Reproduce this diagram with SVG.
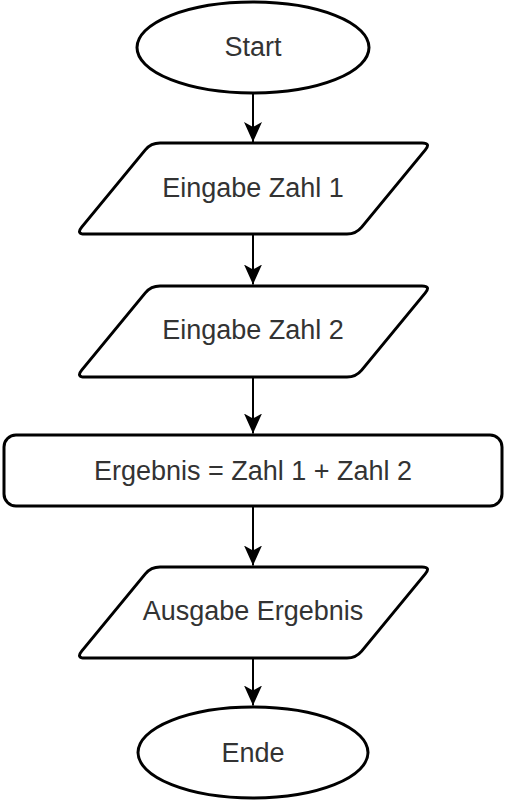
<svg xmlns="http://www.w3.org/2000/svg" width="505" height="800" viewBox="0 0 505 800">
<style>
.shape{fill:#fff;stroke:#000;stroke-width:3}
.lbl{font-family:"Liberation Sans",Arial,sans-serif;font-size:27px;fill:#333;text-anchor:middle}
.conn{stroke:#000;stroke-width:2;fill:none}
</style>
<defs>
<marker id="arr" viewBox="0 0 20 18" refX="20" refY="9" markerWidth="20" markerHeight="18" markerUnits="userSpaceOnUse" orient="auto">
<path d="M0,0 L20,9 L0,18 L5,9 Z" fill="#000"/>
</marker>
<path id="para" d="M 81.7,84.1 L 145.3,6.9 Q 151,0 160,0 L 422,0 Q 431,0 425.3,6.9 L 361.7,84.1 Q 356,91 347,91 L 85,91 Q 76,91 81.7,84.1 Z"/>
</defs>
<rect width="505" height="800" fill="#fff"/>
<g id="connectors">
<line class="conn" x1="253" y1="93.5" x2="253" y2="142" marker-end="url(#arr)"/>
<line class="conn" x1="253" y1="234.5" x2="253" y2="284.5" marker-end="url(#arr)"/>
<line class="conn" x1="253" y1="377.5" x2="253" y2="433.5" marker-end="url(#arr)"/>
<line class="conn" x1="253" y1="506.5" x2="253" y2="565.5" marker-end="url(#arr)"/>
<line class="conn" x1="253" y1="658.5" x2="253" y2="705.5" marker-end="url(#arr)"/>
</g>
<g id="start">
<ellipse class="shape" cx="253" cy="47.5" rx="116" ry="45.5"/>
<text class="lbl" x="253" y="56">Start</text>
</g>
<g id="eingabe1">
<use href="#para" class="shape" transform="translate(0,143)"/>
<text class="lbl" x="253" y="197">Eingabe Zahl 1</text>
</g>
<g id="eingabe2">
<use href="#para" class="shape" transform="translate(0,286)"/>
<text class="lbl" x="253" y="339">Eingabe Zahl 2</text>
</g>
<g id="berechnung">
<rect class="shape" x="4" y="435" width="498" height="71" rx="12" ry="12"/>
<text class="lbl" x="253" y="480">Ergebnis = Zahl 1 + Zahl 2</text>
</g>
<g id="ausgabe">
<use href="#para" class="shape" transform="translate(0,567)"/>
<text class="lbl" x="253" y="620">Ausgabe Ergebnis</text>
</g>
<g id="ende">
<ellipse class="shape" cx="253" cy="752.5" rx="115" ry="45.5"/>
<text class="lbl" x="253" y="762">Ende</text>
</g>
</svg>
